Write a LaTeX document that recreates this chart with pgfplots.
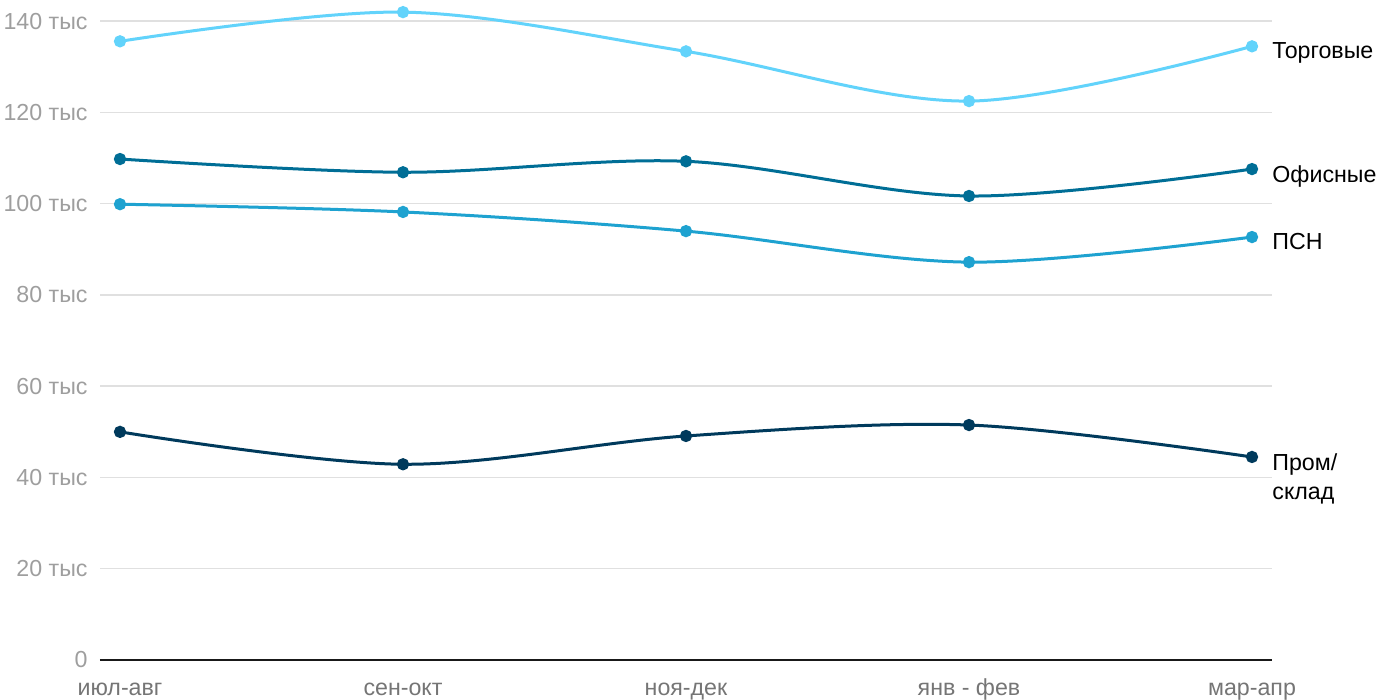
\documentclass[border=0pt]{standalone}
\usepackage{fontspec}
\setmainfont{Liberation Sans}
\usepackage{pgfplots}
\pgfplotsset{compat=1.18}
\definecolor{ctorg}{RGB}{98,211,251}
\definecolor{cofis}{RGB}{0,110,150}
\definecolor{cpsn}{RGB}{30,162,208}
\definecolor{cprom}{RGB}{0,58,92}
\definecolor{cgrid}{RGB}{224,224,224}
\definecolor{cylab}{RGB}{158,158,158}
\definecolor{cxlab}{RGB}{117,117,117}
\begin{document}
\begin{tikzpicture}
\begin{axis}[
  scale only axis,
  width=586pt, height=328.5pt,
  xmin=-0.0707, xmax=4.0707,
  ymin=0, ymax=144,
  axis line style={draw=none},
  xtick={0,1,2,3,4},
  xticklabels={июл-авг,сен-окт,ноя-дек,янв - фев,мар-апр},
  ytick={0,20,40,60,80,100,120,140},
  yticklabels={0,20 тыс,40 тыс,60 тыс,80 тыс,100 тыс,120 тыс,140 тыс},
  major tick length=0pt,
  ymajorgrids,
  grid style={cgrid, line width=0.75pt},
  font=\fontsize{11.6}{13.5}\selectfont,
  yticklabel style={anchor=east, inner sep=0pt, xshift=-6pt, text=cylab},
  xticklabel style={anchor=base, inner sep=0pt, yshift=-17.5pt, text=cxlab},
  clip=false,
  every axis plot/.append style={line width=1.5pt, smooth, tension=0.55, mark=*, mark size=2.3pt},
]
\draw[line width=1pt, black!90] (axis cs:-0.0707,0) -- (axis cs:4.0707,0);
\addplot[color=ctorg, mark options={fill=ctorg, draw=ctorg}] coordinates {(0,135.6) (1,142.0) (2,133.4) (3,122.5) (4,134.5)};
\addplot[color=cofis, mark options={fill=cofis, draw=cofis}] coordinates {(0,109.8) (1,106.9) (2,109.3) (3,101.7) (4,107.6)};
\addplot[color=cpsn, mark options={fill=cpsn, draw=cpsn}] coordinates {(0,99.9) (1,98.2) (2,94.0) (3,87.2) (4,92.7)};
\addplot[color=cprom, mark options={fill=cprom, draw=cprom}] coordinates {(0,50.0) (1,42.9) (2,49.1) (3,51.5) (4,44.5)};
\node[anchor=west, inner sep=0pt, xshift=10pt] at (axis cs:4,133.0) {Торговые};
\node[anchor=west, inner sep=0pt, xshift=10pt] at (axis cs:4,106.0) {Офисные};
\node[anchor=west, inner sep=0pt, xshift=10pt] at (axis cs:4,91.8) {ПСН};
\node[anchor=north west, inner sep=0pt, xshift=10pt, align=left, yshift=2pt] at (axis cs:4,44.5) {Пром/\\[1pt]склад};
\coordinate (sw) at (axis cs:-0.0707,0);
\end{axis}
\pgfresetboundingbox
\path[use as bounding box] ([xshift=-50pt,yshift=-20pt]sw) rectangle ([xshift=650pt,yshift=330pt]sw);
\end{tikzpicture}
\end{document}
